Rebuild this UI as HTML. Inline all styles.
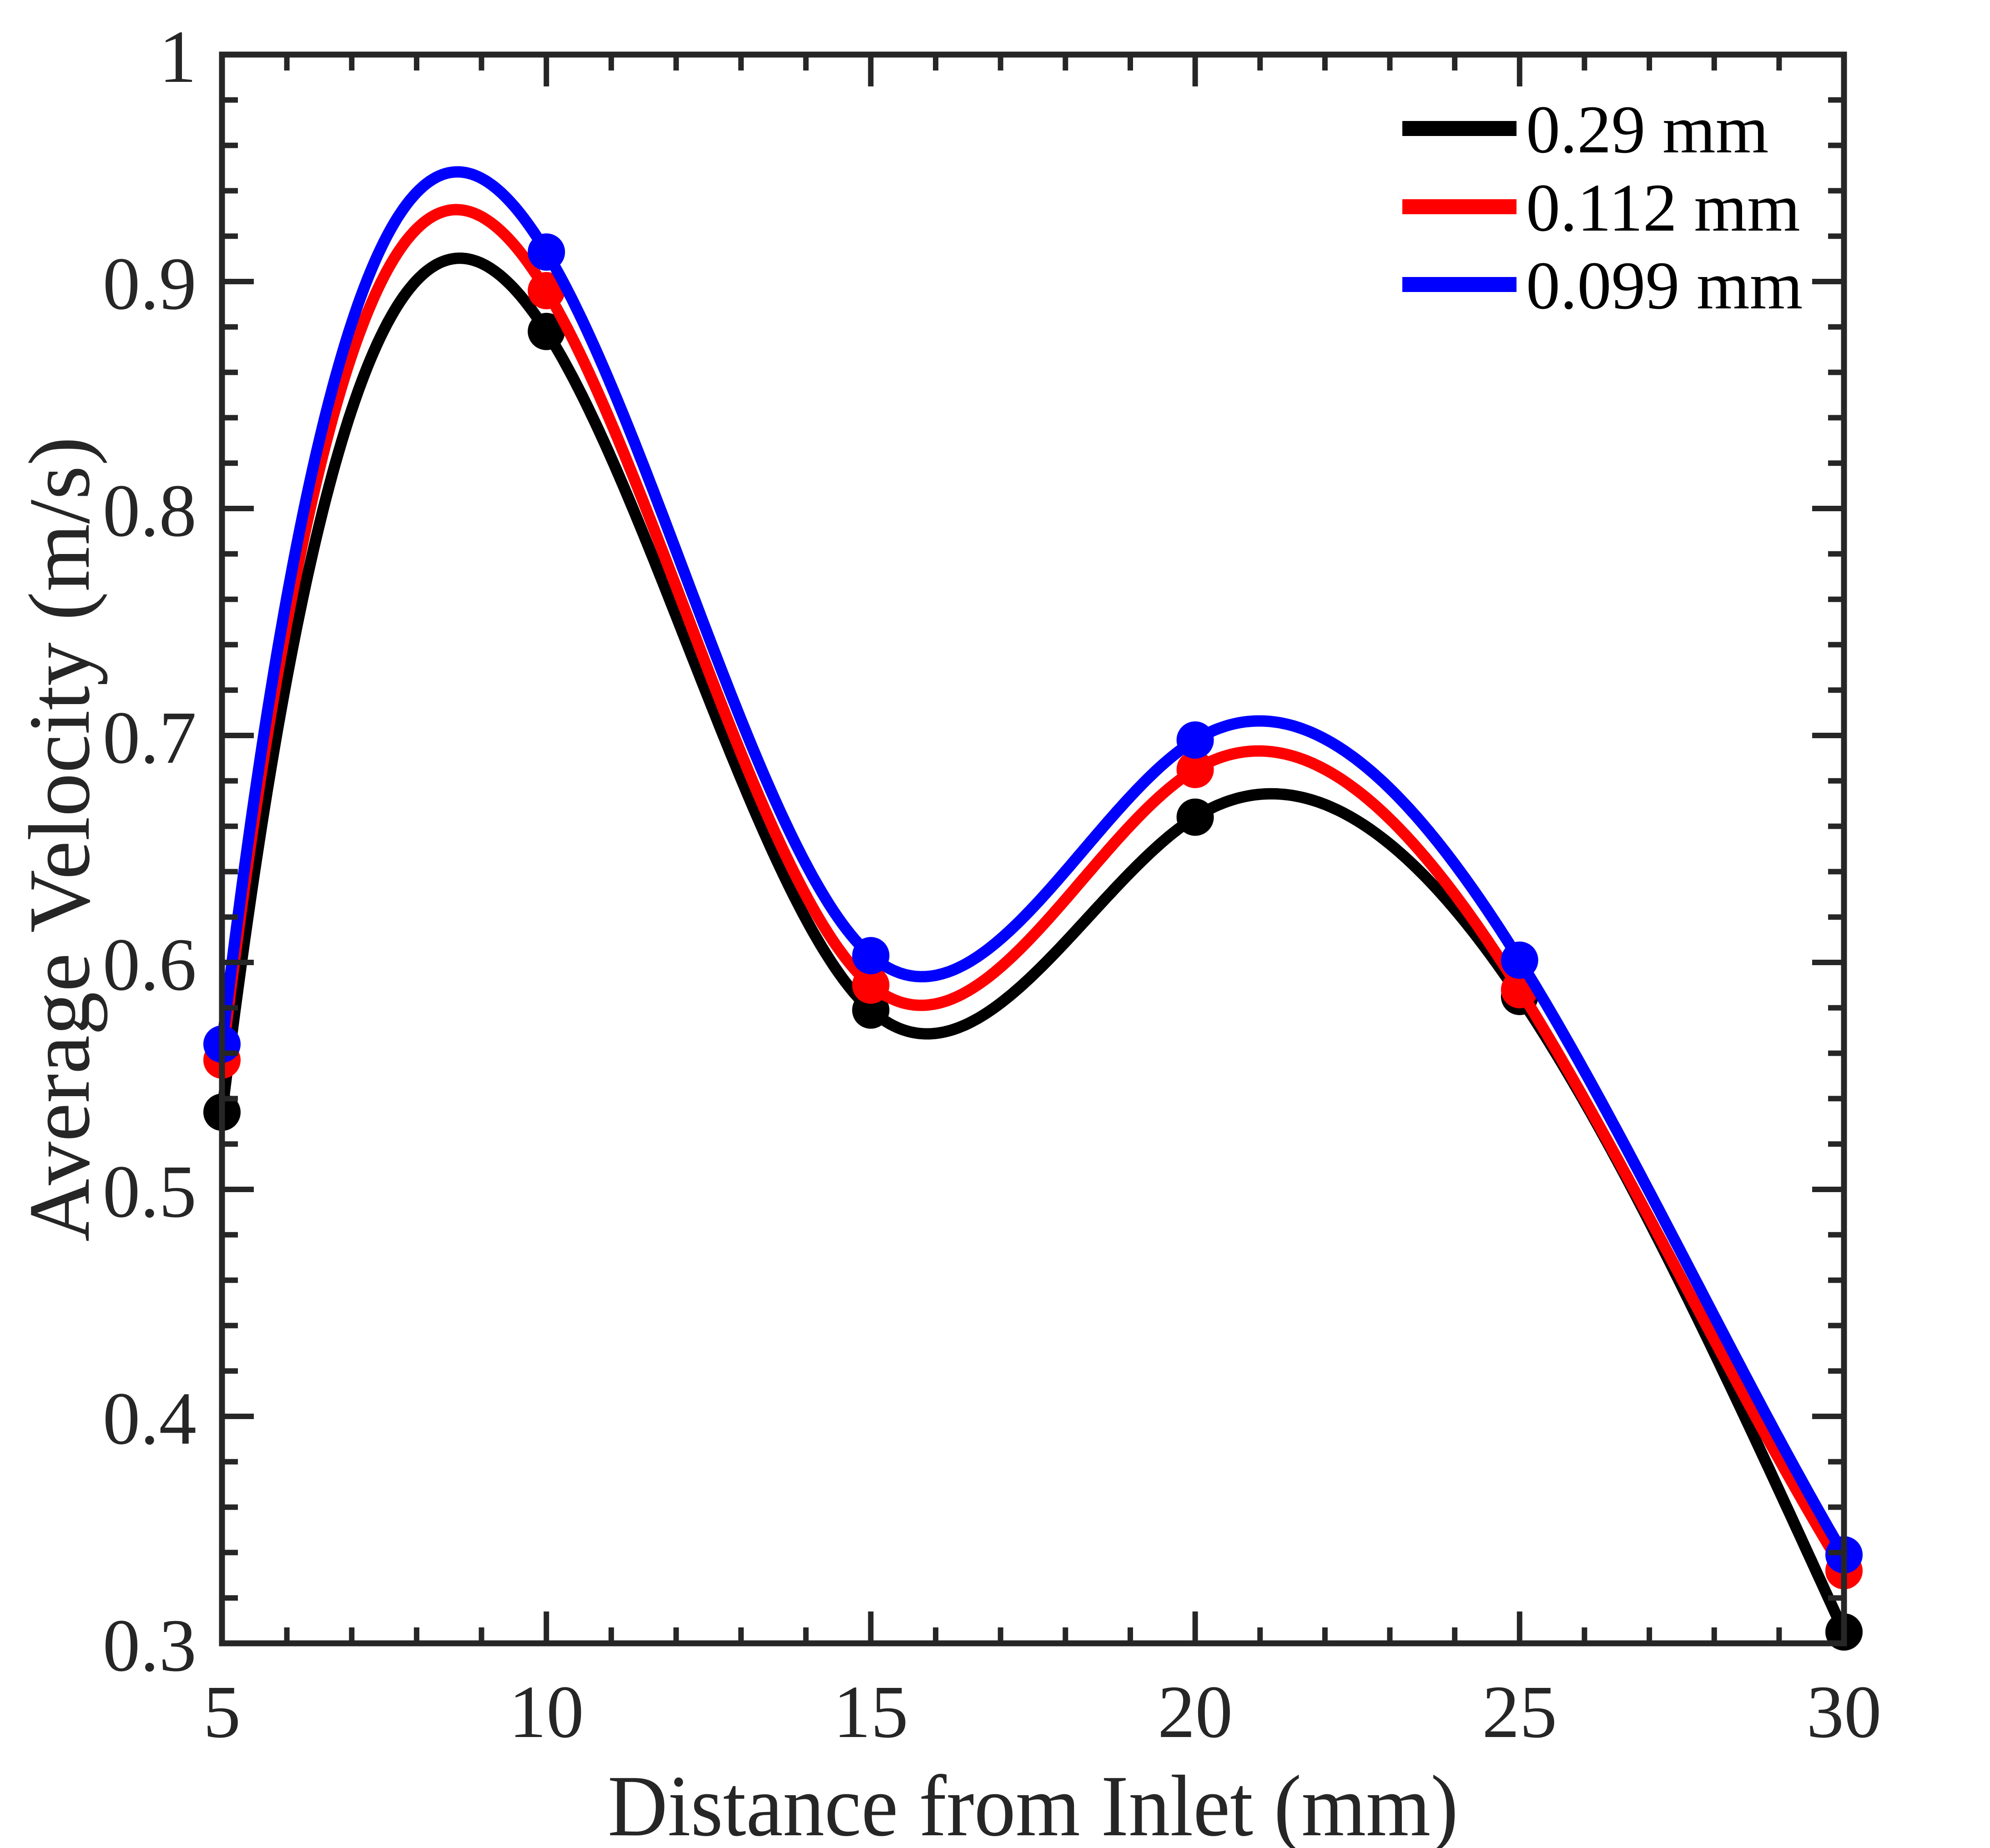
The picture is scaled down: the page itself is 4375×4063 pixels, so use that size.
<!DOCTYPE html>
<html><head><meta charset="utf-8"><style>
html,body{margin:0;padding:0;background:#fff}
svg{display:block}
text{font-family:"Liberation Serif",serif;fill:#262626}
</style></head><body>
<svg id="chart" width="4375" height="4063" viewBox="0 0 4375 4063" xmlns="http://www.w3.org/2000/svg">
<g id="series"></g>
<g id="axes"></g>
<g id="legend"></g>
</svg>
<script>
const xValues = [5, 10, 15, 20, 25, 30];
const seriesBlack = [0.534, 0.878, 0.579, 0.664, 0.585, 0.305];
const seriesRed = [0.557, 0.896, 0.590, 0.685, 0.588, 0.332];
const seriesBlue = [0.564, 0.913, 0.603, 0.698, 0.601, 0.339];
const seriesNames = ["0.29 mm", "0.112 mm", "0.099 mm"];
const xTickLabels = ["5", "10", "15", "20", "25", "30"];
const yTickLabels = ["0.3", "0.4", "0.5", "0.6", "0.7", "0.8", "0.9", "1"];

const NS = "http://www.w3.org/2000/svg";
const L = 488, R = 4054, T = 120, B = 3613;
const X0 = 5, X1 = 30, Y0 = 0.3, Y1 = 1;
const AX = "#262626";
function sx(v){ return L + (v - X0) / (X1 - X0) * (R - L); }
function sy(v){ return B - (v - Y0) / (Y1 - Y0) * (B - T); }
function mk(tag, attrs, parent){
  const e = document.createElementNS(NS, tag);
  for (const k in attrs) e.setAttribute(k, attrs[k]);
  parent.appendChild(e); return e;
}
function solve(A, b){
  const n = b.length;
  for (let i = 0; i < n; i++){
    let p = i;
    for (let r = i+1; r < n; r++) if (Math.abs(A[r][i]) > Math.abs(A[p][i])) p = r;
    [A[i], A[p]] = [A[p], A[i]]; [b[i], b[p]] = [b[p], b[i]];
    for (let r = i+1; r < n; r++){
      const f = A[r][i] / A[i][i];
      for (let c = i; c < n; c++) A[r][c] -= f * A[i][c];
      b[r] -= f * b[i];
    }
  }
  const x = new Array(n).fill(0);
  for (let i = n-1; i >= 0; i--){
    let s = b[i];
    for (let c = i+1; c < n; c++) s -= A[i][c] * x[c];
    x[i] = s / A[i][i];
  }
  return x;
}
function spline(xs, ys){
  const n = xs.length, h = [];
  for (let i = 0; i < n-1; i++) h.push(xs[i+1] - xs[i]);
  const A = [], b = [];
  for (let i = 0; i < n; i++){ A.push(new Array(n).fill(0)); b.push(0); }
  A[0][0] = 1/h[0]; A[0][1] = -1/h[0] - 1/h[1]; A[0][2] = 1/h[1];
  for (let i = 1; i < n-1; i++){
    A[i][i-1] = h[i-1]; A[i][i] = 2*(h[i-1]+h[i]); A[i][i+1] = h[i];
    b[i] = 6*((ys[i+1]-ys[i])/h[i] - (ys[i]-ys[i-1])/h[i-1]);
  }
  A[n-1][n-3] = 1/h[n-3]; A[n-1][n-2] = -1/h[n-3] - 1/h[n-2]; A[n-1][n-1] = 1/h[n-2];
  const M = solve(A, b);
  return function(x){
    let i = 0;
    while (i < n-2 && x > xs[i+1]) i++;
    const a = xs[i+1] - x, c = x - xs[i], hh = h[i];
    return M[i]*a*a*a/(6*hh) + M[i+1]*c*c*c/(6*hh) + (ys[i]/hh - M[i]*hh/6)*a + (ys[i+1]/hh - M[i+1]*hh/6)*c;
  };
}
const series = [
  {name: seriesNames[0], data: seriesBlack, color: "#000000", id: "black"},
  {name: seriesNames[1], data: seriesRed, color: "#ff0000", id: "red"},
  {name: seriesNames[2], data: seriesBlue, color: "#0000ff", id: "blue"}
];
const gS = document.getElementById("series");
series.forEach(s => {
  const f = spline(xValues, s.data);
  let d = "";
  for (let k = 0; k <= 500; k++){
    const x = X0 + (X1 - X0) * k / 500;
    d += (k ? "L" : "M") + sx(x).toFixed(1) + "," + sy(f(x)).toFixed(1);
  }
  const p = mk("path", {d: d, fill: "none", stroke: s.color, "stroke-width": 25, "stroke-linejoin": "round"}, gS);
  
  
  s.data.forEach((v, i) => {
    const c = mk("circle", {cx: sx(xValues[i]), cy: sy(v), r: 41, fill: s.color}, gS);
    
    
  });
});
const gA = document.getElementById("axes");
for (let v = 5; v <= 30; v++){
  const major = (v % 5 === 0), len = major ? 70 : 35;
  mk("line", {x1: sx(v), x2: sx(v), y1: B, y2: B - len, stroke: AX, "stroke-width": 12}, gA);
  mk("line", {x1: sx(v), x2: sx(v), y1: T, y2: T + len, stroke: AX, "stroke-width": 12}, gA);
}
for (let k = 0; k <= 35; k++){
  const v = 0.3 + k * 0.02, major = (k % 5 === 0), len = major ? 70 : 35;
  mk("line", {x1: L, x2: L + len, y1: sy(v), y2: sy(v), stroke: AX, "stroke-width": 12}, gA);
  mk("line", {x1: R, x2: R - len, y1: sy(v), y2: sy(v), stroke: AX, "stroke-width": 12}, gA);
}
const frame = mk("rect", {x: L, y: T, width: R - L, height: B - T, fill: "none", stroke: AX, "stroke-width": 13}, gA);


xTickLabels.forEach((t, i) => {
  const e = mk("text", {x: sx(xValues[i]), y: 3819, "font-size": 165, "text-anchor": "middle"}, gA);
  e.textContent = t;
  
  
});
yTickLabels.forEach((t, i) => {
  const v = 0.3 + i * 0.1;
  const e = mk("text", {x: 432, y: sy(v) + 60, "font-size": 165, "text-anchor": "end"}, gA);
  e.textContent = t;
  
  
});
const xt = mk("text", {x: 2271, y: 4035, "font-size": 192, "text-anchor": "middle", textLength: 1870, lengthAdjust: "spacingAndGlyphs"}, gA);
xt.textContent = "Distance from Inlet (mm)";


const yt = mk("text", {x: 0, y: 0, "font-size": 192, "text-anchor": "middle", textLength: 1770, lengthAdjust: "spacingAndGlyphs", transform: "translate(195,1845) rotate(-90)"}, gA);
yt.textContent = "Average Velocity (m/s)";


const gL = document.getElementById("legend");
const legY = [282, 454, 625];
series.forEach((s, i) => {
  const ln = mk("rect", {x: 3083, y: legY[i] - 16, width: 251, height: 33, fill: s.color}, gL);
  
  
  const tx = mk("text", {x: 3355, y: legY[i] + 53, "font-size": 150}, gL);
  tx.style.fill = '#000';
  tx.textContent = s.name;
  
  
});
</script>
</body></html>
